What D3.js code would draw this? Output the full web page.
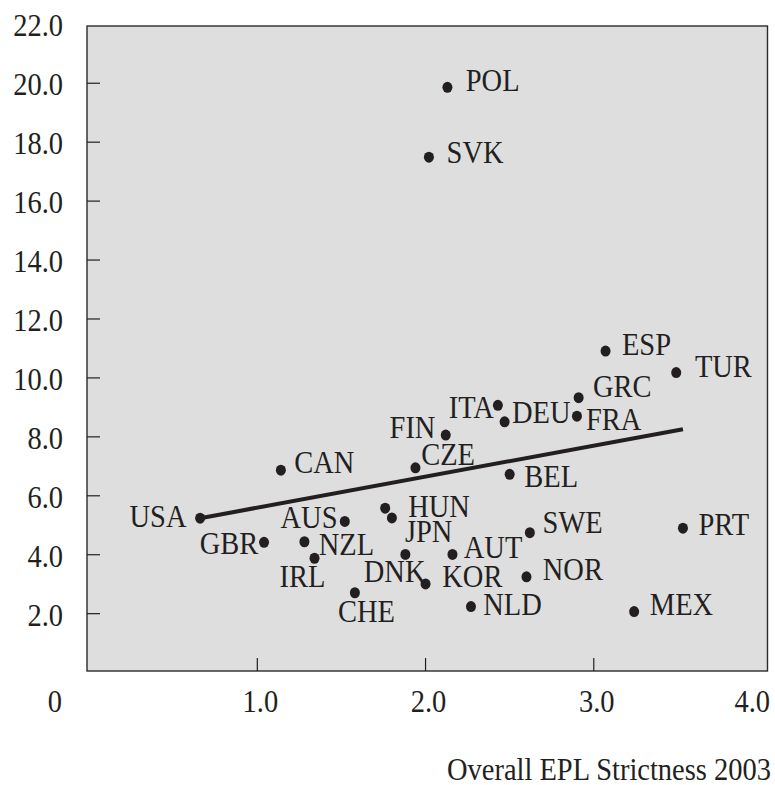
<!DOCTYPE html>
<html lang="en">
<head>
    <meta charset="UTF-8">
    <title>EPL scatter</title>
    <script src="https://cdn.jsdelivr.net/npm/d3@7"></script>
    <style>
        body { margin: 0; background: #fff; }
        text { font-family: "Liberation Serif", "Times New Roman", serif; font-size: 28.5px; fill: #231f20; }
    </style>
</head>
<body>
<div id="chart"></div>
<script>
    // data
    var countries = ["USA", "CAN", "GBR", "AUS", "NZL", "IRL", "CHE", "HUN", "JPN", "DNK",
                     "KOR", "AUT", "SWE", "NOR", "NLD", "MEX", "PRT", "BEL", "CZE", "FIN",
                     "ITA", "DEU", "FRA", "GRC", "ESP", "TUR", "POL", "SVK"];
    var eplStrictness = [0.66, 1.14, 1.04, 1.52, 1.28, 1.34, 1.58, 1.76, 1.80, 1.88,
                         2.00, 2.16, 2.62, 2.60, 2.27, 3.24, 3.53, 2.50, 1.94, 2.12,
                         2.43, 2.47, 2.90, 2.91, 3.07, 3.49, 2.13, 2.02];
    var yValues = [5.24, 6.87, 4.42, 5.13, 4.44, 3.88, 2.71, 5.58, 5.25, 4.01,
                   3.01, 4.01, 4.75, 3.25, 2.24, 2.07, 4.90, 6.73, 6.95, 8.06,
                   9.07, 8.51, 8.70, 9.33, 10.91, 10.18, 19.86, 17.49];
    var trendX = [0.66, 3.53];
    var trendY = [5.24, 8.26];
    var yTickLabels = [2, 4, 6, 8, 10, 12, 14, 16, 18, 20, 22];
    var xTickLabels = [1, 2, 3, 4];
    var xTitle = "Overall EPL Strictness 2003";

    // label placement next to each dot: [dx, dy, anchor]
    var labelPos = {
        USA: [-13.6, 8.4, "end"],   CAN: [13.3, 3.3, "start"],  GBR: [-5.7, 11.7, "end"],
        AUS: [-7.3, 7, "end"],      NZL: [14.3, 13.3, "start"], IRL: [-12, 28.4, "middle"],
        CHE: [11.5, 29, "middle"],  HUN: [23, 8.4, "start"],    JPN: [13, 24, "start"],
        DNK: [-10.7, 27.7, "middle"], KOR: [16.7, 2.7, "start"], AUT: [11.3, 4, "start"],
        SWE: [12.7, 0.6, "start"],  NOR: [16.3, 3.3, "start"],  NLD: [12.3, 8.3, "start"],
        MEX: [15.7, 3.3, "start"],  PRT: [15.6, 6.7, "start"],  BEL: [14.7, 12.4, "start"],
        CZE: [5.7, -2.7, "start"],  FIN: [-10.3, 3.3, "end"],   ITA: [-4, 13, "end"],
        DEU: [7.4, 1.6, "start"],   FRA: [9, 13.7, "start"],    GRC: [14.3, -1, "start"],
        ESP: [16.4, 4, "start"],    TUR: [18.7, 4, "start"],    POL: [18.3, 3.4, "start"],
        SVK: [17.7, 6, "start"]
    };

    var width = 775, height = 785;
    var frame = {left: 87, top: 26, right: 767.5, bottom: 671};
    var stretch = 1.1;   // the glyphs in the reference are a bit taller than wide

    var x = d3.scaleLinear().domain([0, 4]).range([89.1, 762]);
    var y = d3.scaleLinear().domain([0, 22]).range([672.6, 24.3]);

    var svg = d3.select("#chart").append("svg")
                .attr("width", width)
                .attr("height", height);

    // plot area
    svg.append("rect")
        .attr("x", frame.left)
        .attr("y", frame.top)
        .attr("width", frame.right - frame.left)
        .attr("height", frame.bottom - frame.top)
        .style("fill", "#dedede")
        .style("stroke", "#2b2b2b")
        .style("stroke-width", 1.4);

    function place(sel, px, py) {
        sel.attr("transform", function (d, i) {
            return "translate(" + px(d, i) + "," + py(d, i) + ") scale(1," + stretch + ")";
        });
    }

    // y ticks (inside the frame) and labels
    svg.append("g").selectAll("line")
        .data(yTickLabels.filter(function (v) { return v < 22; }))
        .enter().append("line")
        .attr("x1", frame.left).attr("x2", frame.left + 13)
        .attr("y1", function (d) { return y(d); })
        .attr("y2", function (d) { return y(d); })
        .style("stroke", "#231f20").style("stroke-width", 1.2);

    svg.append("g").selectAll("text")
        .data(yTickLabels)
        .enter().append("text")
        .attr("text-anchor", "end")
        .text(function (d) { return d3.format(".1f")(d); })
        .call(place, function () { return 63; }, function (d) { return y(d) + 12; });

    // x ticks and labels
    svg.append("g").selectAll("line")
        .data(xTickLabels.filter(function (v) { return v < 4; }))
        .enter().append("line")
        .attr("x1", function (d) { return x(d); })
        .attr("x2", function (d) { return x(d); })
        .attr("y1", frame.bottom).attr("y2", frame.bottom - 13)
        .style("stroke", "#231f20").style("stroke-width", 1.2);

    svg.append("g").selectAll("text")
        .data(xTickLabels)
        .enter().append("text")
        .attr("text-anchor", function (d, i) { return i === xTickLabels.length - 1 ? "end" : "middle"; })
        .text(function (d) { return d3.format(".1f")(d); })
        .call(place, function (d, i) { return i === xTickLabels.length - 1 ? 770 : x(d) + 3; },
              function () { return 712; });

    // origin label
    svg.append("text")
        .attr("text-anchor", "end")
        .text("0")
        .attr("transform", "translate(62,712) scale(1," + stretch + ")");

    // axis title
    svg.append("text")
        .attr("text-anchor", "end")
        .text(xTitle)
        .attr("transform", "translate(771,780) scale(1," + stretch + ")");

    // trend line
    svg.append("path")
        .datum(d3.zip(trendX, trendY))
        .attr("d", d3.line()
            .x(function (d) { return x(d[0]); })
            .y(function (d) { return y(d[1]); }))
        .style("fill", "none")
        .style("stroke", "#231f20")
        .style("stroke-width", 4);

    // points
    var points = countries.map(function (c, i) {
        return {name: c, ex: eplStrictness[i], ey: yValues[i]};
    });

    svg.append("g").selectAll("ellipse")
        .data(points)
        .enter().append("ellipse")
        .attr("cx", function (d) { return x(d.ex); })
        .attr("cy", function (d) { return y(d.ey); })
        .attr("rx", 5)
        .attr("ry", 5.5)
        .style("fill", "#231f20");

    svg.append("g").selectAll("text")
        .data(points)
        .enter().append("text")
        .attr("text-anchor", function (d) { return labelPos[d.name][2]; })
        .text(function (d) { return d.name; })
        .call(place, function (d) { return x(d.ex) + labelPos[d.name][0]; },
              function (d) { return y(d.ey) + labelPos[d.name][1]; });
</script>
</body>
</html>
